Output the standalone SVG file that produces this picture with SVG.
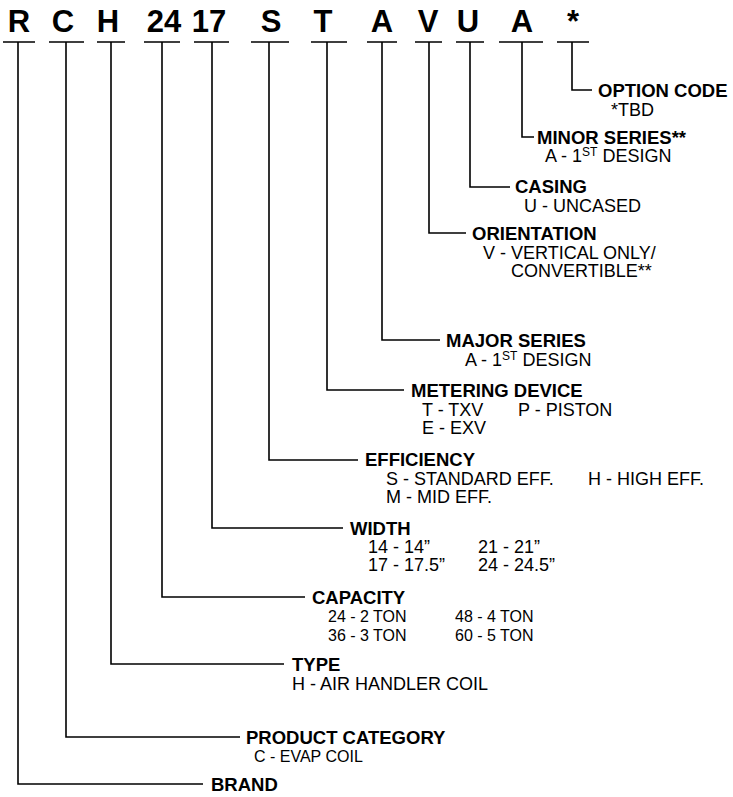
<svg xmlns="http://www.w3.org/2000/svg" width="733" height="797" viewBox="0 0 733 797">
<style>
text{font-family:"Liberation Sans",Arial,Helvetica,sans-serif;fill:#000}
.code{font-size:31px;font-weight:bold;text-anchor:middle}
.t{font-size:18.5px;font-weight:bold}
.b{font-size:18px}
.s{font-size:16px}
.sup{font-size:12px}
.u{stroke:#000;stroke-width:1.5;fill:none}
.c{stroke:#000;stroke-width:1.6;fill:none}
</style>
<rect width="733" height="797" fill="#fff"/>
<g id="code">
<text class="code" x="19" y="32">R</text>
<text class="code" x="63" y="32">C</text>
<text class="code" x="108" y="32">H</text>
<text class="code" x="164" y="32">24</text>
<text class="code" x="209" y="32">17</text>
<text class="code" x="271" y="32">S</text>
<text class="code" x="323" y="32">T</text>
<text class="code" x="382" y="32">A</text>
<text class="code" x="428" y="32">V</text>
<text class="code" x="468" y="32">U</text>
<text class="code" x="522" y="32">A</text>
<text class="code" x="573" y="32">*</text>
<path class="u" d="M3 42H35M49 42H84M97 42H125M144 42H180M194 42H229M251 42H289M311 42H347M367 42H397M415 42H442M456 42H484M499 42H543M557 42H589"/>
</g>
<g id="connectors">
<path class="c" d="M18 42V784H203"/>
<path class="c" d="M66 42V737H240"/>
<path class="c" d="M111 42V664H284"/>
<path class="c" d="M162 42V597H305"/>
<path class="c" d="M212 42V528H343"/>
<path class="c" d="M269 42V460H358"/>
<path class="c" d="M327 42V390H404"/>
<path class="c" d="M382 42V340H440"/>
<path class="c" d="M429 42V233H466"/>
<path class="c" d="M470 42V187H510"/>
<path class="c" d="M522 42V137H534"/>
<path class="c" d="M572 42V90H592"/>
</g>
<g id="option-code">
<text class="t" x="598" y="97">OPTION CODE</text>
<text class="b" x="611" y="116">*TBD</text>
</g>
<g id="minor-series">
<text class="t" x="537" y="144">MINOR SERIES**</text>
<text class="b" x="545" y="162">A - 1<tspan class="sup" dy="-6">ST</tspan><tspan dy="6"> DESIGN</tspan></text>
</g>
<g id="casing">
<text class="t" x="515" y="193">CASING</text>
<text class="b" x="524" y="212">U - UNCASED</text>
</g>
<g id="orientation">
<text class="t" x="472" y="240">ORIENTATION</text>
<text class="b" x="483" y="259">V - VERTICAL ONLY/</text>
<text class="b" x="511" y="277">CONVERTIBLE**</text>
</g>
<g id="major-series">
<text class="t" x="446" y="347">MAJOR SERIES</text>
<text class="b" x="465" y="366">A - 1<tspan class="sup" dy="-6">ST</tspan><tspan dy="6"> DESIGN</tspan></text>
</g>
<g id="metering-device">
<text class="t" x="411" y="397">METERING DEVICE</text>
<text class="b" x="422" y="416">T - TXV</text>
<text class="b" x="518" y="416">P - PISTON</text>
<text class="b" x="422" y="434">E - EXV</text>
</g>
<g id="efficiency">
<text class="t" x="365" y="466">EFFICIENCY</text>
<text class="b" x="386" y="485">S - STANDARD EFF.</text>
<text class="b" x="588" y="485">H - HIGH EFF.</text>
<text class="b" x="386" y="503">M - MID EFF.</text>
</g>
<g id="width">
<text class="t" x="350" y="535">WIDTH</text>
<text class="b" x="368" y="553">14 - 14”</text>
<text class="b" x="478" y="553">21 - 21”</text>
<text class="b" x="368" y="571">17 - 17.5”</text>
<text class="b" x="478" y="571">24 - 24.5”</text>
</g>
<g id="capacity">
<text class="t" x="312" y="604">CAPACITY</text>
<text class="s" x="328" y="622">24 - 2 TON</text>
<text class="s" x="455" y="622">48 - 4 TON</text>
<text class="s" x="328" y="641">36 - 3 TON</text>
<text class="s" x="455" y="641">60 - 5 TON</text>
</g>
<g id="type">
<text class="t" x="292" y="671">TYPE</text>
<text class="b" x="292" y="690">H - AIR HANDLER COIL</text>
</g>
<g id="product-category">
<text class="t" x="246" y="744">PRODUCT CATEGORY</text>
<text class="s" x="254" y="762">C - EVAP COIL</text>
</g>
<g id="brand">
<text class="t" x="211" y="791">BRAND</text>
</g>
</svg>
